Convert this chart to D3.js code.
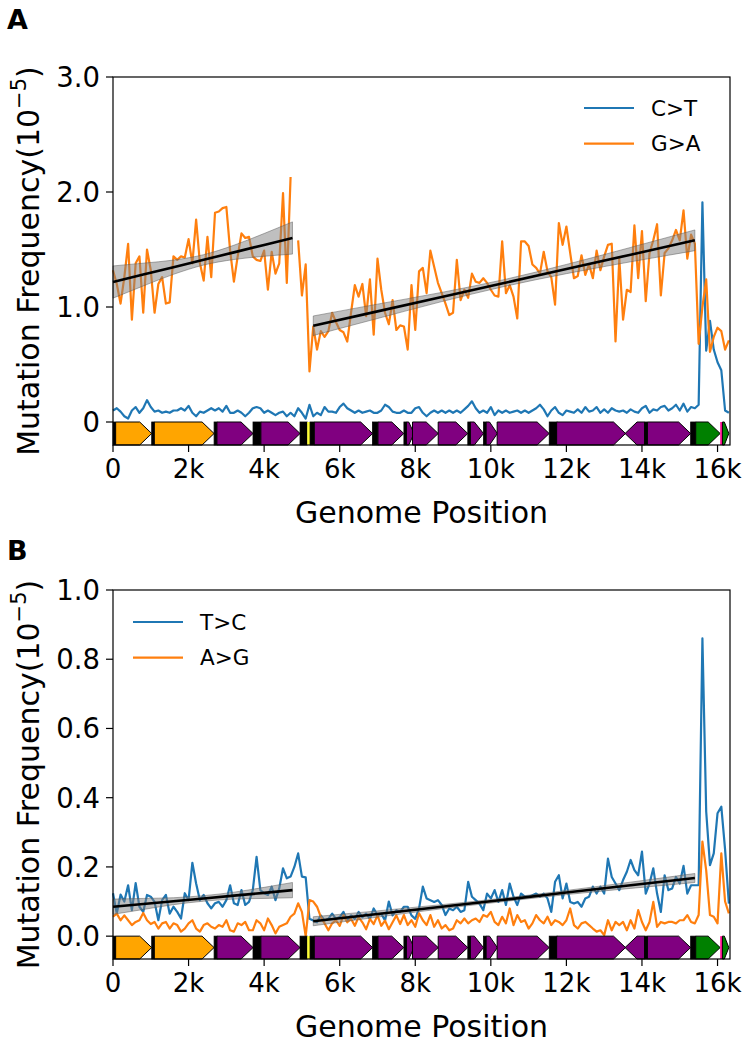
<!DOCTYPE html>
<html><head><meta charset="utf-8">
<script src="https://cdn.jsdelivr.net/npm/d3@7"></script>
<style>body{margin:0;background:#fff} svg{display:block} text{font-family:"DejaVu Sans",sans-serif;fill:#000}</style>
</head><body><svg id="c" width="750" height="1044"></svg>
<script>
// ---------------- DATA ----------------
const binStep = 100;           // genome bin width (bp)
const genomeLength = 16330;
const xTicks = [0, 2000, 4000, 6000, 8000, 10000, 12000, 14000, 16000];
const xTickLabels = ["0", "2k", "4k", "6k", "8k", "10k", "12k", "14k", "16k"];

// Panel A: C>T (blue), G>A (orange)
const ctA = [0.10,0.12,0.09,0.05,0.03,0.10,0.13,0.08,0.12,0.19,
 0.13,0.09,0.10,0.08,0.09,0.08,0.10,0.10,0.12,0.10,
 0.14,0.08,0.05,0.09,0.08,0.10,0.12,0.10,0.12,0.09,
 0.14,0.08,0.08,0.10,0.08,0.05,0.08,0.12,0.13,0.12,
 0.08,0.10,0.08,0.06,0.08,0.09,0.05,0.08,0.05,0.12,
 0.08,0.03,0.15,0.05,0.08,0.06,0.13,0.09,0.09,0.08,
 0.13,0.16,0.12,0.10,0.08,0.10,0.08,0.09,0.10,0.08,
 0.08,0.10,0.15,0.13,0.09,0.08,0.08,0.10,0.08,0.08,
 0.12,0.13,0.08,0.05,0.08,0.10,0.08,0.10,0.08,0.10,
 0.08,0.10,0.08,0.11,0.14,0.18,0.12,0.08,0.10,0.08,
 0.13,0.06,0.10,0.08,0.10,0.08,0.09,0.10,0.08,0.10,
 0.08,0.10,0.12,0.15,0.11,0.05,0.10,0.13,0.08,0.06,
 0.10,0.09,0.08,0.11,0.08,0.13,0.09,0.10,0.13,0.08,
 0.11,0.08,0.12,0.10,0.09,0.10,0.08,0.11,0.09,0.08,
 0.12,0.14,0.08,0.11,0.10,0.13,0.14,0.10,0.12,0.15,
 0.10,0.16,0.09,0.13,0.12,0.15,1.91,0.62,0.88,0.63,
 0.52,0.45,0.10,0.08];
const gaA = [1.32,1.20,1.03,1.26,1.55,0.89,1.38,1.44,0.95,1.50,
 1.32,0.95,1.20,1.26,1.03,1.04,1.44,1.41,1.44,1.43,
 1.59,1.38,1.76,1.38,1.23,1.61,1.26,1.82,1.83,1.86,
 1.87,1.49,1.22,1.44,1.64,1.60,1.61,1.44,1.41,1.40,
 1.49,1.15,1.48,1.29,1.38,1.99,1.21,2.13,null,1.58,
 1.10,1.37,0.44,0.83,0.63,0.79,0.74,0.79,0.95,0.87,
 0.80,0.78,0.70,0.95,1.19,1.09,1.20,0.92,1.24,0.76,
 1.42,1.15,0.95,0.85,1.06,0.80,0.84,0.83,0.63,1.19,
 0.80,1.31,1.34,1.12,1.49,1.35,1.21,1.12,1.03,0.93,
 0.95,1.41,1.06,1.15,1.08,1.29,1.22,1.21,1.25,1.21,
 1.15,1.10,1.09,1.57,1.12,1.19,1.09,0.90,1.57,1.57,
 1.53,1.37,1.34,1.29,1.48,1.31,1.26,1.02,1.73,1.54,
 1.70,1.47,1.25,1.27,1.45,1.28,1.37,1.25,1.49,1.32,
 1.44,1.54,1.55,0.70,1.42,0.89,1.15,1.13,1.71,1.25,
 1.66,1.05,1.47,1.58,1.72,1.10,1.47,1.51,1.58,1.67,
 1.58,1.84,1.42,1.63,1.55,0.68,1.00,1.24,0.61,0.74,
 0.82,0.79,0.63,0.71];

// Panel B: T>C (blue), A>G (orange)
const tcB = [0.124,0.065,0.12,0.10,0.147,0.075,0.153,0.085,0.070,0.119,
 0.114,0.099,0.046,0.104,0.119,0.065,0.085,0.070,0.051,0.124,
 0.104,0.212,0.152,0.104,0.119,0.095,0.080,0.095,0.099,0.085,
 0.104,0.147,0.095,0.090,0.133,0.090,0.099,0.133,0.229,0.133,
 0.124,0.119,0.143,0.104,0.138,0.196,0.167,0.172,0.200,0.239,
 0.172,0.170,0.050,0.045,0.040,0.060,0.045,0.050,0.065,0.050,
 0.055,0.070,0.045,0.060,0.050,0.070,0.055,0.065,0.050,0.080,
 0.060,0.065,0.045,0.100,0.060,0.075,0.070,0.085,0.085,0.060,
 0.050,0.080,0.143,0.109,0.104,0.099,0.104,0.090,0.061,0.080,
 0.075,0.085,0.070,0.075,0.157,0.114,0.104,0.094,0.075,0.123,
 0.109,0.133,0.099,0.133,0.090,0.152,0.114,0.090,0.123,0.114,
 0.114,0.118,0.123,0.114,0.123,0.109,0.070,0.157,0.176,0.109,
 0.152,0.099,0.094,0.099,0.085,0.109,0.114,0.143,0.123,0.143,
 0.123,0.224,0.171,0.152,0.133,0.162,0.186,0.220,0.191,0.176,
 0.244,0.123,0.152,0.196,0.123,0.070,0.176,0.133,0.138,0.171,
 0.152,0.203,0.123,0.147,0.147,0.147,0.860,0.360,0.205,0.239,
 0.355,0.374,0.250,0.094];
const agB = [0.056,0.065,0.046,0.060,0.046,0.032,0.041,0.046,0.067,0.046,
 0.035,0.041,0.022,0.037,0.041,0.022,0.037,0.032,0.013,0.022,
 0.037,0.046,0.022,0.013,0.032,0.037,0.027,0.022,0.032,0.027,
 0.046,0.017,0.013,0.037,0.032,0.041,0.017,0.017,0.046,0.037,
 0.017,0.051,0.032,0.008,0.027,0.032,0.037,0.056,0.065,0.095,
 0.070,0.000,0.104,0.100,0.085,0.056,0.037,0.017,0.037,0.046,
 0.030,0.060,0.040,0.050,0.030,0.055,0.040,0.020,0.050,0.035,
 0.060,0.030,0.045,0.020,0.040,0.060,0.035,0.061,0.032,0.046,
 0.027,0.066,0.046,0.032,0.061,0.027,0.046,0.022,0.032,0.017,
 0.022,0.046,0.037,0.051,0.037,0.046,0.051,0.041,0.061,0.056,
 0.070,0.041,0.032,0.056,0.037,0.080,0.032,0.061,0.041,0.046,
 0.022,0.037,0.061,0.046,0.037,0.056,0.032,0.046,0.041,0.032,
 0.046,0.080,0.032,0.022,0.037,0.041,0.032,0.022,0.013,0.017,
 0.003,0.046,0.017,0.041,0.032,0.041,0.017,0.046,0.022,0.075,
 0.041,0.017,0.041,0.099,0.027,0.041,0.037,0.041,0.041,0.037,
 0.046,0.046,0.061,0.041,0.037,0.061,0.273,0.190,0.061,0.056,
 0.037,0.239,0.100,0.066];

// Linear fits with confidence bands: [position, lower, fit, upper]
const fitA1 = [[0,1.077,1.217,1.357],[800,1.183,1.282,1.381],[1600,1.284,1.346,1.408],[2400,1.365,1.410,1.455],[3200,1.413,1.475,1.537],[4000,1.441,1.540,1.639],[4750,1.460,1.600,1.740]];
const fitA2 = [[5300,0.752,0.837,0.922],[7000,0.900,0.962,1.025],[8700,1.047,1.087,1.127],[10350,1.178,1.208,1.238],[12000,1.290,1.330,1.370],[13700,1.393,1.455,1.518],[15400,1.490,1.580,1.670]];
const fitB1 = [[0,0.063,0.085,0.107],[800,0.077,0.093,0.109],[1600,0.091,0.101,0.111],[2400,0.101,0.109,0.117],[3200,0.107,0.117,0.127],[4000,0.109,0.125,0.141],[4750,0.111,0.133,0.155]];
const fitB2 = [[5300,0.030,0.043,0.056],[7000,0.055,0.064,0.073],[8700,0.079,0.085,0.091],[10350,0.100,0.105,0.110],[12000,0.120,0.126,0.132],[13700,0.138,0.147,0.156],[15400,0.155,0.168,0.181]];

// Genome features: [start, end, type, strand]
const genes = [
 [1,68,"tRNA",1],[70,1024,"rRNA",1],[1025,1093,"tRNA",1],[1094,2675,"rRNA",1],
 [2676,2750,"tRNA",1],[2751,3707,"CDS",1],[3706,3913,"tRNA",1],[3914,4951,"CDS",1],
 [4950,5140,"tRNA",1],[5140,5215,"OL",1],[5215,5326,"tRNA",-1],[5328,6872,"CDS",1],
 [6870,7009,"tRNA",1],[7013,7696,"CDS",1],[7700,7764,"tRNA",1],[7766,7969,"CDS",1],
 [7927,8607,"CDS",1],[8607,9390,"CDS",1],[9391,9458,"tRNA",1],[9459,9806,"CDS",1],
 [9808,9875,"tRNA",1],[9877,10173,"CDS",1],[10167,11544,"CDS",1],[11546,11754,"tRNA",1],
 [11742,13565,"CDS",1],[13552,14070,"CDS",-1],[14071,14139,"tRNA",-1],[14145,15288,"CDS",1],
 [15289,15422,"tRNA",1],[15423,16070,"Dloop",1],[16070,16130,"mark",1],[16130,16299,"Dloop",1]
];
const geneColors = {tRNA:"#000000", rRNA:"#ffa500", CDS:"#800080", OL:"#ffff33", Dloop:"#008000", mark:"#ff1493"};

const panels = [
 {letter:"A", top:77, bottom:445, yDomain:[-0.2,3.0], yTicks:[0,1,2,3], yTickLabels:["0","1.0","2.0","3.0"],
  series:[ctA, gaA], names:["C>T","G>A"], fits:[fitA1, fitA2], legendX:584, legendY:108, letterY:29},
 {letter:"B", top:590, bottom:959, yDomain:[-0.066,1.0], yTicks:[0,0.2,0.4,0.6,0.8,1.0], yTickLabels:["0.0","0.2","0.4","0.6","0.8","1.0"],
  series:[tcB, agB], names:["T>C","A>G"], fits:[fitB1, fitB2], legendX:133, legendY:622, letterY:560}
];
const colors = ["#1f77b4", "#ff7f0e"];

// ---------------- DRAW ----------------
const svg = d3.select("#c");
svg.append("rect").attr("width",750).attr("height",1044).attr("fill","#fff");
const x = d3.scaleLinear().domain([0, genomeLength]).range([113, 730]);
const xTickFs = 26, yTickFs = 27.5, labelFs = 30, legendFs = 21.5;

panels.forEach(p => {
  const y = d3.scaleLinear().domain(p.yDomain).range([p.bottom, p.top]);
  const g = svg.append("g");

  // data lines
  p.series.forEach((s, k) => {
    const line = d3.line().defined(d => d != null).x((d, i) => x(i * binStep)).y(d => y(d));
    g.append("path").datum(s).attr("d", line).attr("fill", "none")
      .attr("stroke", colors[k]).attr("stroke-width", 2.2).attr("stroke-linejoin", "round");
  });

  // fits with CI bands
  p.fits.forEach(f => {
    const area = d3.area().curve(d3.curveMonotoneX).x(d => x(d[0])).y0(d => y(d[1])).y1(d => y(d[3]));
    g.append("path").datum(f).attr("d", area).attr("fill", "#7f7f7f").attr("fill-opacity", 0.5)
      .attr("stroke", "#555").attr("stroke-opacity", 0.6).attr("stroke-width", 0.8);
    const ln = d3.line().x(d => x(d[0])).y(d => y(d[2]));
    g.append("path").datum(f).attr("d", ln).attr("fill", "none").attr("stroke", "#000").attr("stroke-width", 2.6);
  });

  // gene track
  const gt = y(0), gb = y(p.yDomain[0]), gm = (gt + gb) / 2;
  const gg = g.append("g");
  genes.forEach(([s, e, type, strand]) => {
    const x0 = x(s), x1 = x(e);
    if (type === "tRNA" || type === "OL" || type === "mark") {
      gg.append("rect").attr("x", x0).attr("y", gt).attr("width", Math.max(1, x1 - x0)).attr("height", gb - gt)
        .attr("fill", geneColors[type]).attr("stroke", type === "tRNA" ? "#000" : "none").attr("stroke-width", 0.8);
      return;
    }
    const len = x1 - x0, head = Math.min(12, 0.7 * len);
    let pts;
    if (strand > 0) pts = [[x0, gt], [x1 - head, gt], [x1, gm], [x1 - head, gb], [x0, gb]];
    else pts = [[x1, gt], [x0 + head, gt], [x0, gm], [x0 + head, gb], [x1, gb]];
    gg.append("path").attr("d", "M" + pts.map(q => q.join(",")).join("L") + "Z")
      .attr("fill", geneColors[type]).attr("stroke", "#000").attr("stroke-width", 1).attr("stroke-linejoin", "miter");
  });

  // frame
  g.append("rect").attr("x", 113).attr("y", p.top).attr("width", 730 - 113).attr("height", p.bottom - p.top)
    .attr("fill", "none").attr("stroke", "#000").attr("stroke-width", 1.2);

  // y ticks
  p.yTicks.forEach((t, i) => {
    const yy = y(t);
    g.append("line").attr("x1", 106).attr("x2", 113).attr("y1", yy).attr("y2", yy).attr("stroke", "#000").attr("stroke-width", 1.2);
    g.append("text").attr("x", 100).attr("y", yy + 0.36 * yTickFs).attr("text-anchor", "end")
      .attr("font-size", yTickFs).text(p.yTickLabels[i]);
  });
  // x ticks
  xTicks.forEach((t, i) => {
    const xx = x(t);
    g.append("line").attr("x1", xx).attr("x2", xx).attr("y1", p.bottom).attr("y2", p.bottom + 7).attr("stroke", "#000").attr("stroke-width", 1.2);
    g.append("text").attr("x", xx).attr("y", p.bottom + 33).attr("text-anchor", "middle")
      .attr("font-size", xTickFs).text(xTickLabels[i]);
  });

  // axis labels
  g.append("text").attr("x", 421.5).attr("y", p.bottom + 78).attr("text-anchor", "middle")
    .attr("font-size", labelFs).text("Genome Position");
  const yl = g.append("text").attr("transform", `translate(39,${(p.top + p.bottom) / 2}) rotate(-90)`)
    .attr("text-anchor", "middle").attr("font-size", labelFs);
  yl.append("tspan").text("Mutation Frequency(10");
  yl.append("tspan").attr("font-size", labelFs * 0.7).attr("dy", -labelFs * 0.42).text("\u22125");
  yl.append("tspan").attr("dy", labelFs * 0.42).text(")");

  // panel letter
  g.append("text").attr("x", 7).attr("y", p.letterY).attr("font-size", 27).attr("font-weight", "bold").text(p.letter);

  // legend
  p.names.forEach((n, k) => {
    const ly = p.legendY + k * 35.6;
    g.append("line").attr("x1", p.legendX).attr("x2", p.legendX + 50).attr("y1", ly).attr("y2", ly)
      .attr("stroke", colors[k]).attr("stroke-width", 2.2);
    g.append("text").attr("x", p.legendX + 67).attr("y", ly + 0.36 * legendFs).attr("font-size", legendFs).text(n);
  });
});
</script></body></html>
